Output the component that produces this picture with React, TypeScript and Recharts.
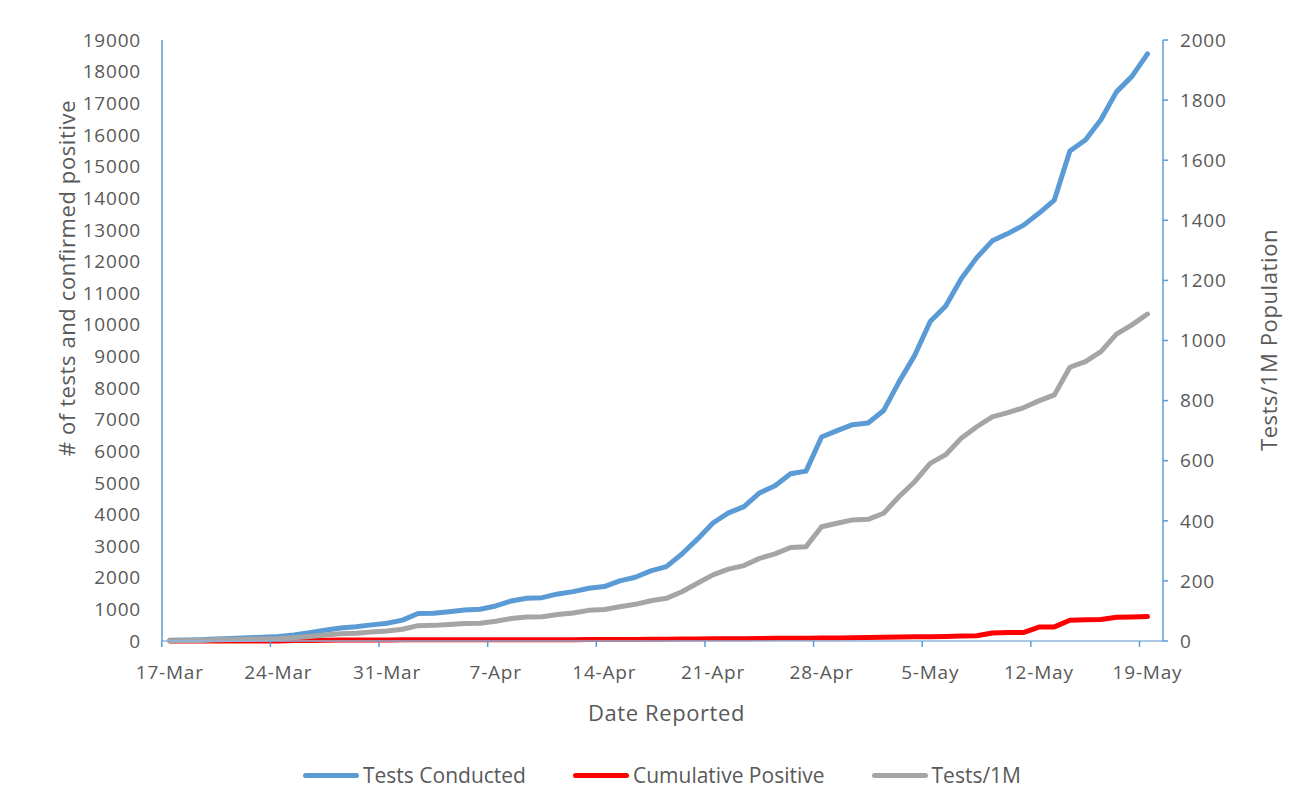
import React from 'react'
import {LineChart, Line, XAxis, YAxis, Legend} from 'recharts'

// day labels, 17-Mar .. 19-May
const dates: string[] = [
  '17-Mar', '18-Mar', '19-Mar', '20-Mar', '21-Mar', '22-Mar', '23-Mar', '24-Mar', '25-Mar', '26-Mar',
  '27-Mar', '28-Mar', '29-Mar', '30-Mar', '31-Mar', '1-Apr', '2-Apr', '3-Apr', '4-Apr', '5-Apr',
  '6-Apr', '7-Apr', '8-Apr', '9-Apr', '10-Apr', '11-Apr', '12-Apr', '13-Apr', '14-Apr', '15-Apr',
  '16-Apr', '17-Apr', '18-Apr', '19-Apr', '20-Apr', '21-Apr', '22-Apr', '23-Apr', '24-Apr', '25-Apr',
  '26-Apr', '27-Apr', '28-Apr', '29-Apr', '30-Apr', '1-May', '2-May', '3-May', '4-May', '5-May',
  '6-May', '7-May', '8-May', '9-May', '10-May', '11-May', '12-May', '13-May', '14-May', '15-May',
  '16-May', '17-May', '18-May', '19-May'
]

// Tests Conducted (left axis)
const testsConducted: number[] = [
  20, 30, 40, 60, 80, 100, 120, 140, 190, 260,
  340, 410, 450, 510, 560, 660, 870, 877, 928, 982,
  1003, 1108, 1267, 1352, 1371, 1488, 1561, 1669, 1720, 1900,
  2017, 2217, 2353, 2750, 3220, 3730, 4050, 4250, 4680, 4910,
  5285, 5370, 6450, 6650, 6840, 6890, 7285, 8200, 9030, 10100,
  10590, 11450, 12120, 12650, 12880, 13140, 13520, 13940, 15490, 15840,
  16480, 17360, 17850, 18560
]

// Cumulative Positive (left axis)
const cumulativePositive: number[] = [
  0, 2, 2, 2, 2, 3, 3, 3, 12, 16,
  22, 28, 29, 35, 35, 36, 36, 36, 39, 39,
  39, 39, 39, 39, 40, 40, 43, 45, 45, 45,
  48, 52, 57, 61, 65, 70, 74, 74, 76, 84,
  88, 89, 95, 97, 106, 109, 119, 124, 137, 138,
  146, 158, 167, 252, 267, 267, 441, 446, 654, 668,
  679, 753, 761, 772
]

// Tests/1M (right axis)
const testsPerMillion: number[] = [
  1, 2, 2, 4, 5, 6, 7, 8, 11, 15,
  20, 24, 26, 30, 33, 39, 51, 52, 55, 58,
  59, 66, 75, 80, 81, 88, 93, 102, 105, 114,
  122, 134, 142, 164, 192, 220, 239, 251, 275, 290,
  311, 314, 380, 392, 403, 405, 425, 481, 530, 591,
  620, 675, 713, 746, 760, 776, 799, 819, 911, 930,
  963, 1021, 1052, 1088
]

const legendOrder = ['Tests Conducted', 'Cumulative Positive', 'Tests/1M']

const xTicks = [0, 7, 14, 21, 28, 35, 42, 49, 56, 63]
const leftTicks = Array.from({length: 20}, (_, i) => i * 1000)
const rightTicks = Array.from({length: 11}, (_, i) => i * 200)

const data = dates.map((d, i) => ({
  day: i,
  date: d,
  tests: testsConducted[i],
  positive: cumulativePositive[i],
  perM: testsPerMillion[i]
}))

const FONT = '"Open Sans", sans-serif'
const TXT = '#595959'

const DateTick = (props: any) => {
  const {x, y, payload} = props
  return (
    <g>
      {/* tick marks sit between categories, like excel */}
      <line x1={x - 8} x2={x - 8} y1={y - 8} y2={y - 2} stroke='#5B9BD5' strokeWidth={1.5} />
      <text x={x} y={y} dy={23} textAnchor='middle' dominantBaseline='central' fill={TXT} fontSize={19} letterSpacing={0.8} fontFamily={FONT}>
        {dates[payload.value]}
      </text>
    </g>
  )
}

const renderLegend = (props: any) => {
  const items = [...(props.payload || [])].sort((a: any, b: any) => legendOrder.indexOf(a.value) - legendOrder.indexOf(b.value))
  return (
    <div style={{display: 'flex', justifyContent: 'center', alignItems: 'flex-end', gap: 47, height: 40, paddingLeft: 12, paddingBottom: 6, boxSizing: 'border-box'}}>
      {items.map((p: any) => (
        <div key={p.value} style={{display: 'flex', alignItems: 'center', height: 22, lineHeight: '22px', fontFamily: FONT, fontSize: 21, color: TXT}}>
          <span style={{display: 'inline-block', width: 56, height: 5, borderRadius: 3, background: p.color, marginRight: 4}} />
          {p.value}
        </div>
      ))}
    </div>
  )
}

export default function App() {
  return (
    <div style={{position: 'absolute', left: 0, top: 0, width: 1312, height: 792, background: '#fff'}}>
      <LineChart width={1312} height={792} data={data} margin={{top: 40, right: 0, bottom: 0, left: 0}}>
        <XAxis
          dataKey='day'
          type='number'
          domain={[-0.5, 64]}
          ticks={xTicks}
          interval={0}
          height={111}
          stroke='#8FB4DE'
          strokeWidth={1.5}
          tickLine={false}
          tick={<DateTick />}
          label={(p: any) => (
            <text x={p.viewBox.x + p.viewBox.width / 2 + 4} y={p.viewBox.y + 71} textAnchor='middle' dominantBaseline='central' fill={TXT} fontSize={22} letterSpacing={0.6} fontFamily={FONT}>
              Date Reported
            </text>
          )}
        />
        <YAxis
          yAxisId='left'
          domain={[0, 19000]}
          ticks={leftTicks}
          interval={0}
          width={162}
          stroke='#5B9BD5'
          strokeWidth={1.5}
          tickLine={false}
          tickSize={0}
          tickMargin={21}
          tick={{fill: TXT, fontSize: 19, letterSpacing: 0.8, fontFamily: FONT}}
          label={() => (
            <text transform={`translate(${66}, ${278}) rotate(-90)`} textAnchor='middle' dominantBaseline='central' fill={TXT} fontSize={22} letterSpacing={0.6} fontFamily={FONT}>
              # of tests and confirmed positive
            </text>
          )}
        />
        <YAxis
          yAxisId='right'
          orientation='right'
          domain={[0, 2000]}
          ticks={rightTicks}
          interval={0}
          width={149}
          stroke='#5B9BD5'
          strokeWidth={1.5}
          tickSize={5}
          tickMargin={12}
          tick={{fill: TXT, fontSize: 19, letterSpacing: 0.8, fontFamily: FONT, textAnchor: 'start'}}
          label={() => (
            <text transform={`translate(${1268}, ${340}) rotate(-90)`} textAnchor='middle' dominantBaseline='central' fill={TXT} fontSize={22} letterSpacing={0.6} fontFamily={FONT}>
              Tests/1M Population
            </text>
          )}
        />
        <Legend verticalAlign='bottom' content={renderLegend} />
        <Line yAxisId='left' type='linear' dataKey='tests' name='Tests Conducted' stroke='#5B9BD5' strokeWidth={5} strokeLinecap='round' strokeLinejoin='round' dot={false} isAnimationActive={false} />
        <Line yAxisId='left' type='linear' dataKey='positive' name='Cumulative Positive' stroke='#FF0000' strokeWidth={5} strokeLinecap='round' strokeLinejoin='round' dot={false} isAnimationActive={false} />
        <Line yAxisId='right' type='linear' dataKey='perM' name='Tests/1M' stroke='#A5A5A5' strokeWidth={5} strokeLinecap='round' strokeLinejoin='round' dot={false} isAnimationActive={false} />
      </LineChart>
    </div>
  )
}
